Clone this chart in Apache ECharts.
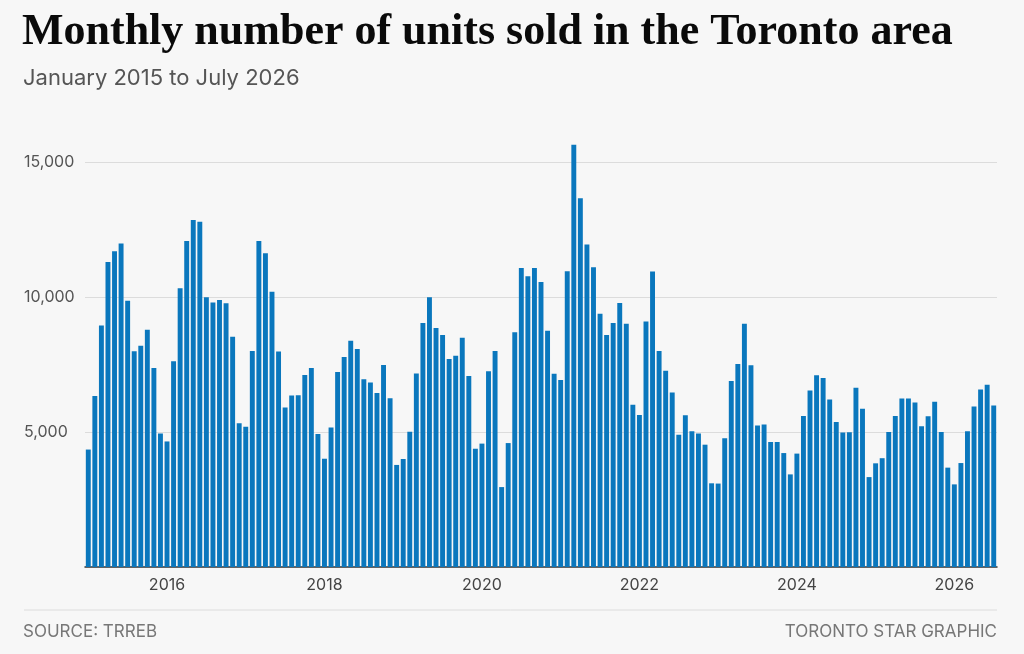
<!DOCTYPE html>
<html lang="en">
<head>
    <meta charset="UTF-8">
    <title>Toronto units sold</title>
    <script src="https://cdn.jsdelivr.net/npm/echarts@6/dist/echarts.min.js"></script>
</head>
<style type="text/css">
    html,body,#chart{
        width: 100%;
        height: 100%;
        margin: 0;
        padding: 0;
        background: #f7f7f7;
    }
</style>
<body>
<div id="chart"></div>
<script>
    // monthly units sold, Jan 2015 .. Jul 2026
    var startYear = 2015;
    var sales = [
        4350, 6330, 8940, 11300, 11690, 11980, 9860, 7990, 8190, 8790, 7370, 4940,
        4650, 7620, 10320, 12070, 12850, 12790, 9990, 9800, 9890, 9770, 8530, 5320,
        5190, 8000, 12070, 11620, 10190, 7980, 5910, 6350, 6360, 7110, 7370, 4930,
        4010, 5170, 7220, 7780, 8380, 8070, 6950, 6830, 6440, 7480, 6250, 3780,
        4000, 5010, 7170, 9040, 9990, 8850, 8590, 7700, 7820, 8490, 7070, 4380,
        4570, 7250, 8000, 2960, 4590, 8690, 11070, 10770, 11070, 10560, 8750, 7160,
        6930, 10950, 15640, 13660, 11940, 11100, 9380, 8590, 9040, 9780, 9010, 6010,
        5630, 9090, 10940, 8000, 7270, 6460, 4900, 5620, 5030, 4940, 4530, 3100,
        3090, 4770, 6890, 7520, 9010, 7470, 5240, 5280, 4630, 4630, 4220, 3430,
        4200, 5590, 6540, 7100, 7000, 6200, 5370, 4980, 4990, 6640, 5860, 3330,
        3840, 4030, 5000, 5590, 6240, 6240, 6090, 5210, 5580, 6120, 5000, 3680,
        3060, 3850, 5030, 5940, 6570, 6750, 5980
    ];
    var yearTicks = ['2016', '2018', '2020', '2022', '2024', '2026'];
    var yTicks = [5000, 10000, 15000];

    var months = [];
    for (var i = 0; i < sales.length; i++) {
        var y = startYear + Math.floor(i / 12);
        var m = (i % 12) + 1;
        months.push(y + '-' + (m < 10 ? '0' + m : m));
    }

    var sans = 'Inter, "Noto Sans", sans-serif';
    var myChart = echarts.init(document.getElementById('chart'));
    var options = {
        backgroundColor: '#f7f7f7',
        animation: false,
        title: [{
            text: 'Monthly number of units sold in the Toronto area',
            left: 22,
            top: 11,
            padding: 0,
            textStyle: {
                fontFamily: '"Liberation Serif", serif',
                fontWeight: 'bold',
                fontSize: 44,
                color: '#0a0a0a'
            }
        }, {
            text: 'January 2015 to July 2026',
            left: 23,
            top: 67,
            padding: 0,
            textStyle: {
                fontFamily: sans,
                fontWeight: 'normal',
                fontSize: 22,
                color: '#555'
            }
        }, {
            text: 'SOURCE: TRREB',
            left: 23,
            top: 623,
            padding: 0,
            textStyle: {
                fontFamily: sans,
                fontWeight: 'normal',
                fontSize: 17,
                color: '#777'
            }
        }, {
            text: 'TORONTO STAR GRAPHIC',
            right: 27,
            top: 623,
            padding: 0,
            textStyle: {
                fontFamily: sans,
                fontWeight: 'normal',
                fontSize: 17,
                color: '#777'
            }
        }],
        graphic: [{
            type: 'line',
            shape: { x1: 24, y1: 610, x2: 997, y2: 610 },
            style: { stroke: '#dcdcdc', lineWidth: 1 }
        }],
        grid: {
            left: 85,
            right: 27,
            top: 135,
            bottom: 87
        },
        xAxis: {
            type: 'category',
            data: months,
            axisLine: { lineStyle: { color: '#333', width: 1.5 } },
            axisTick: { show: false },
            axisLabel: {
                interval: function (idx, val) {
                    return yearTicks.indexOf(val.slice(0, 4)) >= 0 && val.slice(5) === '01';
                },
                formatter: function (val) { return val.slice(0, 4); },
                margin: 10,
                fontFamily: sans,
                fontSize: 16,
                color: '#444'
            }
        },
        yAxis: {
            type: 'value',
            min: 0,
            max: 16000,
            interval: 5000,
            axisLine: { show: false },
            axisTick: { show: false },
            splitLine: {
                lineStyle: {
                    color: ['rgba(0,0,0,0)', '#dcdcdc', '#dcdcdc', '#dcdcdc', 'rgba(0,0,0,0)'],
                    width: 1
                }
            },
            axisLabel: {
                margin: 61,
                align: 'left',
                fontFamily: sans,
                fontSize: 16,
                color: '#555',
                formatter: function (v) {
                    return yTicks.indexOf(v) >= 0 ? v.toLocaleString('en-US') : '';
                }
            }
        },
        series: [{
            type: 'bar',
            data: sales,
            barCategoryGap: '25%',
            itemStyle: { color: '#0a77bd' }
        }]
    };
    myChart.setOption(options);
</script>
</body>
</html>
